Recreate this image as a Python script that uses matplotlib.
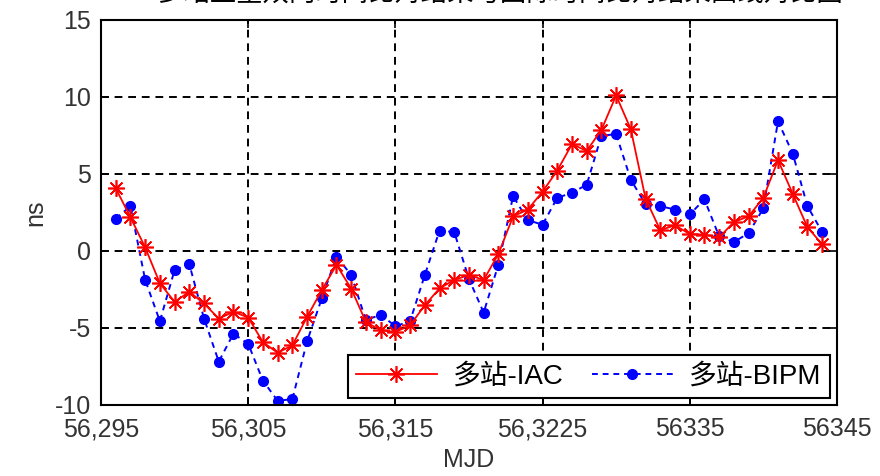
import numpy as np
import matplotlib
matplotlib.use("Agg")
import matplotlib.pyplot as plt

plt.rcParams['font.family'] = ['Liberation Sans', 'Noto Sans CJK SC', 'DejaVu Sans']
plt.rcParams['axes.unicode_minus'] = False

# MJD days and clock offsets (ns)
mjd = np.arange(56296, 56345)

iac = [4.07, 2.19, 0.23, -2.10, -3.30, -2.65, -3.41, -4.39, -3.95, -4.32,
       -5.92, -6.61, -6.13, -4.28, -2.54, -0.90, -2.45, -4.61, -5.15, -5.26,
       -4.83, -3.52, -2.43, -1.88, -1.56, -1.88, -0.20, 2.25, 2.69, 3.85,
       5.22, 6.94, 6.50, 7.86, 10.10, 7.90, 3.40, 1.35, 1.67, 1.10,
       1.06, 0.88, 1.88, 2.25, 3.45, 5.90, 3.71, 1.54, 0.44]

bipm = [2.10, 2.91, -1.88, -4.56, -1.23, -0.86, -4.39, -7.18, -5.37, -6.03,
        -8.42, -9.73, -9.62, -5.87, -3.08, -0.36, -1.56, -4.50, -4.13, -4.89,
        -4.56, -1.56, 1.32, 1.23, -1.82, -4.00, -0.88, 3.56, 2.00, 1.71,
        3.45, 3.78, 4.30, 7.48, 7.59, 4.62, 3.04, 2.91, 2.69, 2.37,
        3.35, 0.95, 0.58, 1.16, 2.76, 8.42, 6.33, 2.91, 1.23]

xticks = [56295, 56305, 56315, 56325, 56335, 56345]
xtick_labels = ['56,295', '56,305', '56,315', '56,3225', '56335', '56345']
yticks = [-10, -5, 0, 5, 10, 15]

fig = plt.figure(figsize=(8.8, 4.76), dpi=100)
ax = fig.add_axes([0.1148, 0.1492, 0.8362, 0.8088])

ax.plot(mjd, iac, color='#ff0000', lw=1.3, marker=(8, 2, 0), markersize=12,
        markeredgewidth=1.2, label='多站-IAC', zorder=3)
ax.plot(mjd, bipm, color='#0000ff', lw=1.4, ls=(0, (3, 2.5)), marker='o',
        markersize=7, label='多站-BIPM', zorder=2)

ax.set_xlim(56295, 56345)
ax.set_ylim(-10, 15)
ax.set_xticks(xticks)
ax.set_xticklabels(xtick_labels)
ax.set_yticks(yticks)
ax.grid(True, color='black', ls=(0, (4, 3)), lw=1.4)
ax.tick_params(direction='in', top=True, right=True, length=6, width=1.2,
               labelsize=18, labelcolor='#333333', pad=7)
ax.tick_params(axis='x', pad=9)
for s in ax.spines.values():
    s.set_linewidth(1.5)

ax.set_xlabel('MJD', fontsize=18, color='#333333')
ax.xaxis.set_label_coords(0.5, -0.112)
ax.set_ylabel('ns', fontsize=18, color='#333333')
ax.yaxis.set_label_coords(-0.073, 0.5)

leg = ax.legend(loc='lower right', ncol=2, handlelength=2.9,
                borderaxespad=0.25, fancybox=False, edgecolor='black',
                framealpha=1, columnspacing=1.0, handletextpad=0.6,
                borderpad=0.3,
                prop={'family': ['Liberation Sans', 'Noto Sans CJK SC'], 'size': 20})
leg.get_frame().set_linewidth(1.5)

# title, mostly cut off at the top edge as in the source image
fig.text(0.568, 0.9975, '多站卫星双向时间比对结果与国际时间比对结果曲线对比图',
         ha='center', va='baseline', fontsize=19,
         family=['Noto Sans CJK SC', 'DejaVu Sans'])

fig.savefig('out.png', dpi=100)
